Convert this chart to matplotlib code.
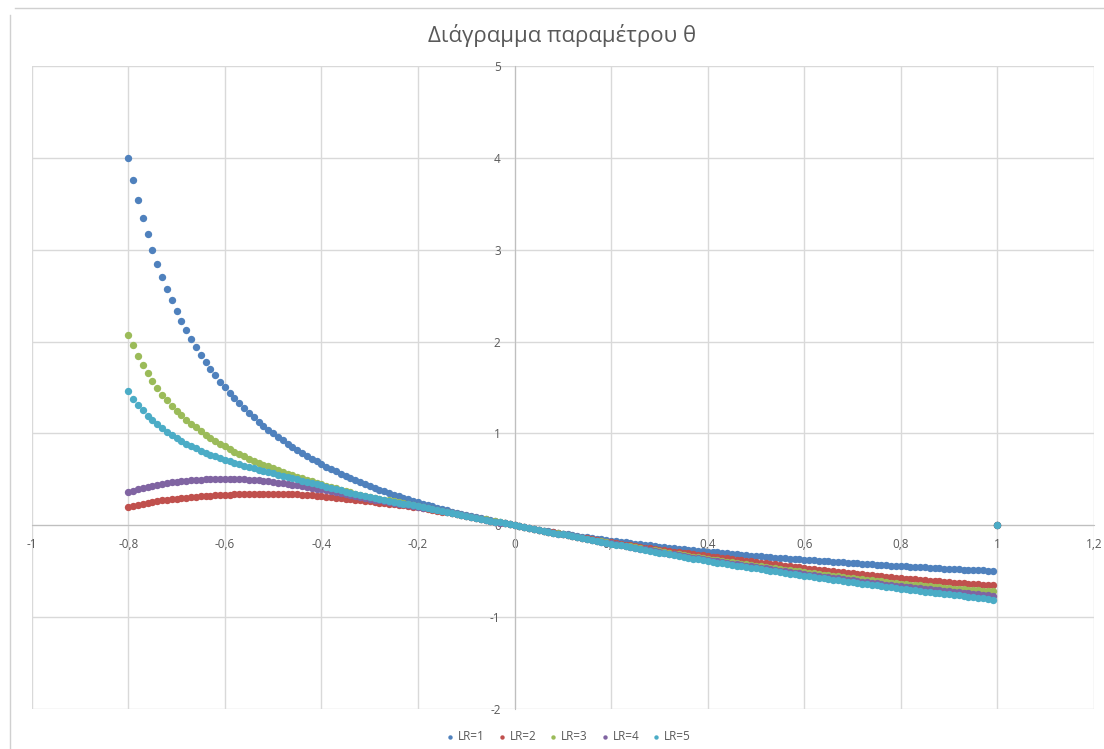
import numpy as np
import matplotlib
matplotlib.use("Agg")
import matplotlib.pyplot as plt
from matplotlib.lines import Line2D

# x grid of the sheet: -0.80 ... 1.00 step 0.01
x = np.round(np.arange(-80, 101) / 100, 2)

lr1 = [4.000, 3.762, 3.545, 3.348, 3.167, 3.000, 2.846, 2.704, 2.571, 2.448,
       2.333, 2.226, 2.125, 2.030, 1.941, 1.857, 1.778, 1.703, 1.632, 1.564,
       1.500, 1.439, 1.381, 1.326, 1.273, 1.222, 1.174, 1.128, 1.083, 1.041,
       1.000, 0.961, 0.923, 0.887, 0.852, 0.818, 0.786, 0.754, 0.724, 0.695,
       0.667, 0.639, 0.613, 0.587, 0.563, 0.538, 0.515, 0.493, 0.471, 0.449,
       0.429, 0.408, 0.389, 0.370, 0.351, 0.333, 0.316, 0.299, 0.282, 0.266,
       0.250, 0.235, 0.220, 0.205, 0.190, 0.176, 0.163, 0.149, 0.136, 0.124,
       0.111, 0.099, 0.087, 0.075, 0.064, 0.053, 0.042, 0.031, 0.020, 0.010,
       0.000, -0.010, -0.020, -0.029, -0.038, -0.048, -0.057, -0.065, -0.074, -0.083,
       -0.091, -0.099, -0.107, -0.115, -0.123, -0.130, -0.138, -0.145, -0.153, -0.160,
       -0.167, -0.174, -0.180, -0.187, -0.194, -0.200, -0.206, -0.213, -0.219, -0.225,
       -0.231, -0.237, -0.242, -0.248, -0.254, -0.259, -0.265, -0.270, -0.275, -0.281,
       -0.286, -0.291, -0.296, -0.301, -0.306, -0.310, -0.315, -0.320, -0.324, -0.329,
       -0.333, -0.338, -0.342, -0.346, -0.351, -0.355, -0.359, -0.363, -0.367, -0.371,
       -0.375, -0.379, -0.383, -0.387, -0.390, -0.394, -0.398, -0.401, -0.405, -0.408,
       -0.412, -0.415, -0.419, -0.422, -0.425, -0.429, -0.432, -0.435, -0.438, -0.441,
       -0.444, -0.448, -0.451, -0.454, -0.457, -0.459, -0.462, -0.465, -0.468, -0.471,
       -0.474, -0.476, -0.479, -0.482, -0.485, -0.487, -0.490, -0.492, -0.495, -0.497,
       0.0]

lr2 = [0.200, 0.212, 0.223, 0.234, 0.245, 0.255, 0.263, 0.270, 0.277, 0.284,
       0.290, 0.295, 0.300, 0.305, 0.310, 0.315, 0.319, 0.322, 0.326, 0.329,
       0.332, 0.334, 0.337, 0.339, 0.341, 0.343, 0.344, 0.345, 0.346, 0.346,
       0.346, 0.345, 0.343, 0.341, 0.339, 0.336, 0.333, 0.329, 0.325, 0.320,
       0.315, 0.310, 0.305, 0.300, 0.295, 0.290, 0.284, 0.278, 0.272, 0.266,
       0.260, 0.254, 0.248, 0.242, 0.236, 0.230, 0.223, 0.216, 0.209, 0.202,
       0.195, 0.186, 0.177, 0.168, 0.159, 0.150, 0.140, 0.130, 0.120, 0.110,
       0.100, 0.090, 0.080, 0.070, 0.060, 0.050, 0.040, 0.030, 0.020, 0.010,
       0.000, -0.010, -0.020, -0.030, -0.039, -0.049, -0.058, -0.068, -0.077, -0.087,
       -0.096, -0.105, -0.115, -0.124, -0.133, -0.142, -0.151, -0.160, -0.169, -0.177,
       -0.186, -0.194, -0.202, -0.211, -0.219, -0.227, -0.235, -0.243, -0.250, -0.258,
       -0.265, -0.272, -0.279, -0.286, -0.293, -0.300, -0.307, -0.314, -0.321, -0.328,
       -0.335, -0.342, -0.348, -0.355, -0.361, -0.368, -0.374, -0.381, -0.387, -0.394,
       -0.400, -0.407, -0.413, -0.420, -0.426, -0.433, -0.439, -0.446, -0.452, -0.459,
       -0.465, -0.471, -0.476, -0.482, -0.487, -0.493, -0.498, -0.504, -0.509, -0.515,
       -0.520, -0.526, -0.531, -0.537, -0.542, -0.548, -0.553, -0.559, -0.564, -0.570,
       -0.575, -0.580, -0.584, -0.589, -0.593, -0.598, -0.602, -0.607, -0.611, -0.616,
       -0.620, -0.624, -0.628, -0.632, -0.636, -0.640, -0.644, -0.648, -0.651, -0.655,
       0.0]

lr3 = [2.070, 1.960, 1.845, 1.750, 1.660, 1.575, 1.495, 1.422, 1.360, 1.302,
       1.248, 1.198, 1.150, 1.105, 1.065, 1.025, 0.988, 0.953, 0.920, 0.888,
       0.858, 0.830, 0.802, 0.776, 0.751, 0.727, 0.704, 0.682, 0.661, 0.640,
       0.620, 0.601, 0.582, 0.563, 0.545, 0.527, 0.510, 0.494, 0.478, 0.463,
       0.448, 0.432, 0.416, 0.401, 0.386, 0.372, 0.359, 0.346, 0.333, 0.321,
       0.310, 0.300, 0.290, 0.280, 0.271, 0.262, 0.252, 0.242, 0.232, 0.223,
       0.213, 0.203, 0.192, 0.182, 0.171, 0.160, 0.149, 0.138, 0.127, 0.116,
       0.105, 0.094, 0.084, 0.073, 0.063, 0.052, 0.042, 0.031, 0.021, 0.010,
       0.000, -0.010, -0.020, -0.030, -0.040, -0.050, -0.059, -0.069, -0.079, -0.089,
       -0.099, -0.109, -0.118, -0.128, -0.137, -0.147, -0.157, -0.166, -0.176, -0.185,
       -0.195, -0.204, -0.213, -0.221, -0.230, -0.239, -0.248, -0.257, -0.265, -0.274,
       -0.283, -0.291, -0.299, -0.308, -0.316, -0.324, -0.332, -0.340, -0.349, -0.357,
       -0.365, -0.373, -0.380, -0.388, -0.395, -0.403, -0.410, -0.418, -0.425, -0.433,
       -0.440, -0.447, -0.454, -0.461, -0.468, -0.475, -0.482, -0.489, -0.496, -0.503,
       -0.510, -0.517, -0.523, -0.530, -0.536, -0.543, -0.549, -0.556, -0.562, -0.569,
       -0.575, -0.581, -0.587, -0.593, -0.599, -0.605, -0.611, -0.617, -0.623, -0.629,
       -0.635, -0.640, -0.645, -0.650, -0.655, -0.660, -0.665, -0.670, -0.675, -0.680,
       -0.685, -0.689, -0.693, -0.697, -0.701, -0.705, -0.708, -0.712, -0.716, -0.720,
       0.0]

lr4 = [0.360, 0.376, 0.391, 0.405, 0.418, 0.430, 0.441, 0.451, 0.460, 0.467,
       0.473, 0.479, 0.484, 0.489, 0.494, 0.498, 0.501, 0.504, 0.506, 0.507,
       0.508, 0.508, 0.507, 0.505, 0.502, 0.498, 0.494, 0.489, 0.484, 0.478,
       0.472, 0.465, 0.458, 0.451, 0.443, 0.435, 0.427, 0.418, 0.409, 0.400,
       0.391, 0.381, 0.371, 0.361, 0.350, 0.339, 0.329, 0.318, 0.308, 0.297,
       0.287, 0.278, 0.270, 0.261, 0.253, 0.244, 0.236, 0.227, 0.219, 0.211,
       0.203, 0.193, 0.183, 0.173, 0.163, 0.153, 0.143, 0.132, 0.122, 0.111,
       0.101, 0.091, 0.081, 0.071, 0.060, 0.050, 0.040, 0.030, 0.020, 0.010,
       0.000, -0.010, -0.020, -0.030, -0.040, -0.050, -0.060, -0.070, -0.080, -0.090,
       -0.100, -0.110, -0.120, -0.129, -0.139, -0.149, -0.159, -0.169, -0.179, -0.188,
       -0.198, -0.207, -0.216, -0.226, -0.235, -0.244, -0.253, -0.262, -0.272, -0.281,
       -0.290, -0.299, -0.308, -0.316, -0.325, -0.334, -0.343, -0.352, -0.360, -0.369,
       -0.378, -0.386, -0.393, -0.401, -0.409, -0.417, -0.424, -0.432, -0.440, -0.447,
       -0.455, -0.463, -0.470, -0.478, -0.485, -0.493, -0.500, -0.508, -0.515, -0.523,
       -0.530, -0.537, -0.544, -0.551, -0.558, -0.565, -0.572, -0.579, -0.586, -0.593,
       -0.600, -0.607, -0.613, -0.620, -0.626, -0.633, -0.639, -0.646, -0.652, -0.659,
       -0.665, -0.671, -0.676, -0.682, -0.687, -0.693, -0.698, -0.704, -0.709, -0.715,
       -0.720, -0.725, -0.730, -0.735, -0.740, -0.745, -0.750, -0.755, -0.760, -0.765,
       0.0]

lr5 = [1.460, 1.380, 1.310, 1.250, 1.195, 1.148, 1.104, 1.062, 1.020, 0.982,
       0.948, 0.917, 0.888, 0.861, 0.836, 0.812, 0.790, 0.769, 0.749, 0.730,
       0.712, 0.695, 0.679, 0.663, 0.648, 0.633, 0.619, 0.605, 0.591, 0.578,
       0.565, 0.552, 0.539, 0.526, 0.513, 0.500, 0.487, 0.474, 0.461, 0.448,
       0.435, 0.421, 0.407, 0.393, 0.379, 0.366, 0.353, 0.340, 0.328, 0.316,
       0.305, 0.295, 0.285, 0.275, 0.265, 0.256, 0.246, 0.237, 0.227, 0.218,
       0.208, 0.198, 0.188, 0.178, 0.167, 0.157, 0.146, 0.136, 0.125, 0.114,
       0.104, 0.093, 0.083, 0.072, 0.062, 0.051, 0.041, 0.031, 0.020, 0.010,
       0.000, -0.010, -0.020, -0.030, -0.040, -0.050, -0.060, -0.070, -0.080, -0.090,
       -0.100, -0.110, -0.120, -0.130, -0.140, -0.150, -0.160, -0.170, -0.180, -0.190,
       -0.200, -0.210, -0.219, -0.229, -0.239, -0.249, -0.258, -0.268, -0.278, -0.287,
       -0.297, -0.306, -0.316, -0.325, -0.334, -0.344, -0.353, -0.362, -0.371, -0.381,
       -0.390, -0.398, -0.406, -0.414, -0.422, -0.430, -0.438, -0.446, -0.454, -0.462,
       -0.470, -0.478, -0.486, -0.493, -0.501, -0.509, -0.517, -0.525, -0.532, -0.540,
       -0.548, -0.555, -0.562, -0.570, -0.577, -0.584, -0.591, -0.598, -0.606, -0.613,
       -0.620, -0.627, -0.634, -0.641, -0.648, -0.655, -0.662, -0.669, -0.676, -0.683,
       -0.690, -0.696, -0.702, -0.709, -0.715, -0.721, -0.727, -0.733, -0.740, -0.746,
       -0.752, -0.758, -0.764, -0.771, -0.777, -0.783, -0.789, -0.796, -0.802, -0.808,
       0.0]

series = [lr1, lr2, lr3, lr4, lr5]
names = ["LR=1", "LR=2", "LR=3", "LR=4", "LR=5"]
colors = ["#4F81BD", "#C0504D", "#9BBB59", "#8064A2", "#4BACC6"]

xticks = [-1, -0.8, -0.6, -0.4, -0.2, 0, 0.2, 0.4, 0.6, 0.8, 1, 1.2]
xlabels = ["-1", "-0,8", "-0,6", "-0,4", "-0,2", "0", "0,2", "0,4", "0,6", "0,8", "1", "1,2"]
yticks = [-2, -1, 0, 1, 2, 3, 4, 5]
ylabels = ["-2", "-1", "0", "1", "2", "3", "4", "5"]

plt.rcParams['font.family'] = ['Open Sans', 'DejaVu Sans']
txt = "#595959"
grid = "#d9d9d9"

fig = plt.figure(figsize=(11.04, 7.49), dpi=100)
ax = fig.add_axes([0.0287, 0.0534, 0.9622, 0.8585])

for ys, name, c in zip(series, names, colors):
    ax.scatter(x, ys, s=28, color=c, linewidths=0, label=name, zorder=3)

ax.set_xlim(-1, 1.2)
ax.set_ylim(-2, 5)
ax.set_xticks(xticks)
ax.set_xticklabels(xlabels)
ax.set_yticks(yticks)
ax.set_yticklabels(ylabels)
ax.grid(True, color=grid, linewidth=1.0)
ax.set_axisbelow(True)

for s in ["top", "right"]:
    ax.spines[s].set_visible(False)
ax.spines["left"].set_position(("data", 0))
ax.spines["bottom"].set_position(("data", 0))
ax.spines["left"].set_color("#bfbfbf")
ax.spines["bottom"].set_color("#bfbfbf")
ax.tick_params(axis="both", length=0, colors=txt, labelsize=8.5)
ax.tick_params(axis="x", pad=9)
ax.tick_params(axis="y", pad=10)

fig.text(0.5095, 0.952, "Διάγραμμα παραμέτρου θ", ha="center", va="center",
         fontsize=16, color=txt)

fig.legend(loc="center", bbox_to_anchor=(0.513, 0.017), ncol=5, frameon=False,
           fontsize=8.5, labelcolor=txt, handletextpad=0.0, columnspacing=0.7,
           handlelength=1.4, markerscale=0.6, scatterpoints=1)

# chart area border (partly cut off in the screenshot)
fig.add_artist(Line2D([15 / 1104, 1], [1 - 8 / 749, 1 - 8 / 749], color="#d0d0d0", lw=1))
fig.add_artist(Line2D([10 / 1104, 10 / 1104], [0, 1 - 15 / 749], color="#d0d0d0", lw=1))

fig.savefig("out.png", dpi=100)
